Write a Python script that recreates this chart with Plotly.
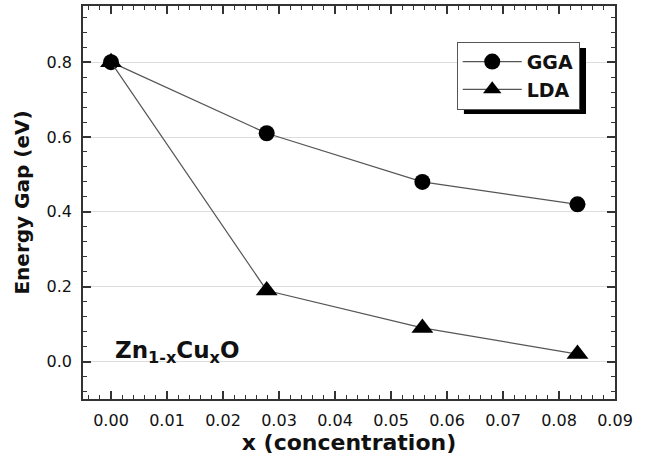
import plotly.graph_objects as go

x_conc = [0.0, 0.0278, 0.0556, 0.0833]
gga = [0.80, 0.61, 0.48, 0.42]
lda = [0.80, 0.19, 0.09, 0.02]

FONT = "DejaVu Sans"
AX = "#333333"

fig = go.Figure()
fig.add_trace(go.Scatter(
    x=x_conc, y=gga, name="<b>GGA</b>", mode="lines+markers",
    line=dict(color="#555555", width=1.2),
    marker=dict(symbol="circle", size=16, color="black"),
))
fig.add_trace(go.Scatter(
    x=x_conc, y=lda, name="<b>LDA</b>", mode="lines+markers",
    line=dict(color="#555555", width=1.2),
    marker=dict(symbol="triangle-up", size=19, color="black"),
))

common = dict(
    showline=True, linecolor=AX, linewidth=1.5, mirror="allticks",
    ticks="inside", ticklen=8, tickwidth=1.5, tickcolor=AX,
    tickfont=dict(family=FONT, size=16, color="#111111"),
    zeroline=False, automargin=False,
)

fig.update_xaxes(
    range=[-0.005, 0.09], dtick=0.01, tick0=0, tickformat=".2f",
    showgrid=False, ticklabelstandoff=6,
    minor=dict(dtick=0.002, tick0=0, ticks="inside", ticklen=4, tickwidth=1.2, tickcolor=AX, showgrid=False),
    title=dict(text="<b>x (concentration)</b>", font=dict(family=FONT, size=22, color="#111111"), standoff=0),
    **common,
)
fig.update_yaxes(
    range=[-0.1, 0.95], dtick=0.2, tick0=0, tickformat=".1f",
    showgrid=True, gridcolor="#dddddd", gridwidth=1, ticklabelstandoff=6,
    minor=dict(dtick=0.04, tick0=0, ticks="inside", ticklen=4, tickwidth=1.2, tickcolor=AX, showgrid=False),
    title=dict(text="<b>Energy Gap (eV)</b>", font=dict(family=FONT, size=20, color="#111111"), standoff=12),
    **common,
)

fig.add_annotation(
    xref="paper", yref="paper", x=0.056, y=0.12, xanchor="left", yanchor="middle",
    text="<b>Zn<sub>1-x</sub>Cu<sub>x</sub>O</b>", showarrow=False,
    font=dict(family=FONT, size=23, color="#111111"),
)

# legend drop shadow
fig.add_shape(type="rect", xref="paper", yref="paper",
              x0=0.716, x1=0.9455, y0=0.725, y1=0.893,
              fillcolor="black", line=dict(width=0), layer="above")

fig.update_layout(
    width=651, height=461,
    margin=dict(l=83, r=36, t=6, b=62),
    plot_bgcolor="white", paper_bgcolor="white",
    font=dict(family=FONT, color="#111111"),
    legend=dict(
        x=0.7025, y=0.909, xanchor="left", yanchor="top",
        bgcolor="white", bordercolor="#555555", borderwidth=1,
        font=dict(family=FONT, size=19, color="#111111"),
        itemwidth=59, tracegroupgap=0,
    ),
)

fig.write_html("out.html", config={"displayModeBar": False},
               post_script="document.body.style.margin='0';")
